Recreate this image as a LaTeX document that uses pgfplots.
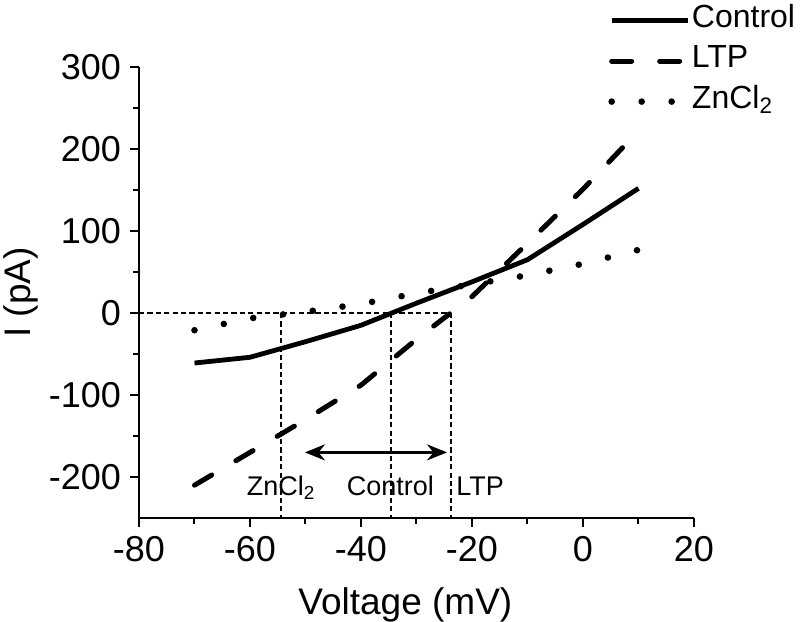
\documentclass[border=0pt]{standalone}
\usepackage{fontspec}
\setmainfont{Liberation Sans}
\usepackage{pgfplots}
\pgfplotsset{compat=1.18}
\usetikzlibrary{arrows.meta}

\pgfplotstableread{
v     ctrl   ltp    zn
-70   -61   -210   -21
-60   -54   -170   -6.5
-50   -35   -130    1.5
-40   -15    -88   11
-30    12    -32   24
-20    38     20   35
-10    65     85   46
0     108    151   60
10    152    222   77
}\ivdata

\tikzset{
  refline/.style={black, line width=0.6pt, dash pattern=on 2.6pt off 1.6pt},
}

\begin{document}
\begin{tikzpicture}
\begin{axis}[
    name=ax,
    at={(0,0)}, anchor=south west,
    scale only axis,
    width=277.5pt, height=225.5pt,
    xmin=-80, xmax=20, ymin=-250, ymax=300,
    axis x line=bottom, axis y line=left,
    axis line style={-, line width=1pt},
    xtick={-80,-60,...,20}, ytick={-200,-100,...,300},
    minor x tick num=1, minor y tick num=1,
    tick align=outside,
    major tick length=4.5pt, minor tick length=3pt,
    every tick/.style={black, line width=1pt},
    /pgf/number format/assume math mode=true,
    tick label style={font=\fontsize{18}{20}\selectfont},
    xticklabel style={yshift=-1pt},
    yticklabel style={xshift=-1pt},
    xlabel={Voltage (mV)}, ylabel={I (pA)},
    label style={font=\fontsize{18.5}{22}\selectfont},
    xlabel style={at={(axis description cs:0.48,-0.215)}, anchor=base},
    ylabel style={at={(axis description cs:-0.195,0.5)}, anchor=base},
    clip=false,
    legend cell align=left,
    legend style={at={(axis description cs:0.845,1.142)}, anchor=north west,
        draw=none, fill=none, font=\fontsize{16}{18}\selectfont,
        row sep=0pt, inner sep=0pt,
        nodes={inner sep=0.5pt, text height=11.5pt, text depth=7.75pt}},
    legend image code/.code={\draw[#1] (0pt,1.5pt) -- (38pt,1.5pt);},
]
\addplot[black, line width=2.4pt, line join=round] table[x=v, y=ctrl] {\ivdata};
\addlegendentry{Control}
\addplot[black, line width=2.5pt, line cap=round, dash pattern=on 10pt off 14pt] table[x=v, y=ltp] {\ivdata};
\addlegendentry{LTP}
\addplot[black, line width=3.3pt, line cap=round, dash pattern=on 0pt off 15pt] table[x=v, y=zn] {\ivdata};
\addlegendentry{ZnCl\textsubscript{2}}

% reversal potential guides
\addplot[refline, forget plot] coordinates {(-80,0) (-23.8,0)};
\addplot[refline, forget plot] coordinates {(-54.4,0) (-54.4,-250)};
\addplot[refline, forget plot] coordinates {(-34.6,0) (-34.6,-250)};
\addplot[refline, forget plot] coordinates {(-23.8,0) (-23.8,-250)};
\addplot[black, line width=1.5pt, forget plot,
    {Stealth[length=10pt, width=8pt]}-{Stealth[length=10pt, width=8pt]}]
    coordinates {(-50.1,-170) (-24.5,-170)};

\node[anchor=base, font=\fontsize{13.5}{15}\selectfont] at (axis cs:-54.4,-222) {ZnCl\textsubscript{2}};
\node[anchor=base, font=\fontsize{13.5}{15}\selectfont] at (axis cs:-34.7,-222) {Control};
\node[anchor=base west, inner sep=0pt, font=\fontsize{13.5}{15}\selectfont] at (axis cs:-22.9,-222) {LTP};
\end{axis}
\pgfresetboundingbox
\path[use as bounding box] ([shift={(-69.5pt,-52pt)}]ax.south west) rectangle ([shift={(330.5pt,259pt)}]ax.south west);
\end{tikzpicture}
\end{document}
